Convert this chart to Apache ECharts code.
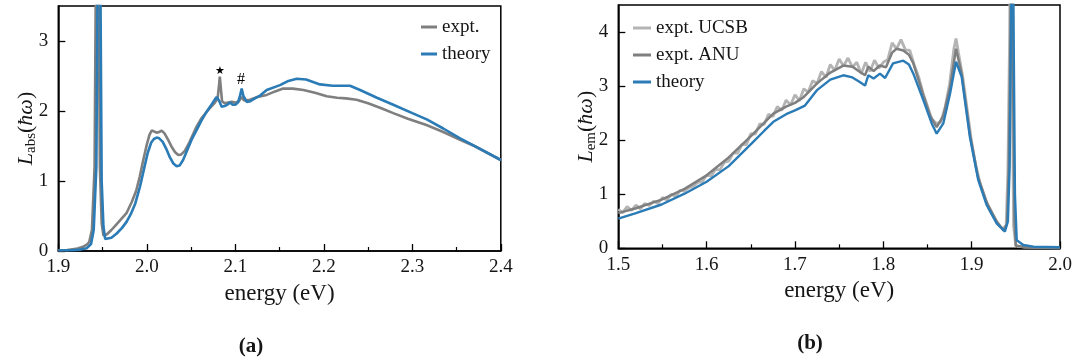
<!DOCTYPE html>
<html>
<head>
<meta charset="utf-8">
<script src="https://cdn.jsdelivr.net/npm/echarts@6/dist/echarts.min.js"></script>
<style>
  html, body { margin: 0; padding: 0; background: #fff; }
  #chart { width: 1080px; height: 362px; }
</style>
</head>
<body>
<div id="chart"></div>
<script>
// ---- (a) absorption line shape: [energy eV, L_abs] ----
const absExpt = [
  [1.900, 0.01], [1.910, 0.015], [1.920, 0.03], [1.928, 0.06], [1.933, 0.10], [1.935, 0.13],
  [1.938, 0.30], [1.941, 1.20], [1.9425, 4.0], [1.944, 8.0], [1.9455, 4.0], [1.947, 1.20],
  [1.949, 0.40], [1.951, 0.22], [1.955, 0.24], [1.960, 0.30], [1.965, 0.37], [1.970, 0.44],
  [1.977, 0.54], [1.983, 0.70], [1.988, 0.86], [1.992, 1.06], [1.996, 1.30], [2.000, 1.52],
  [2.003, 1.66], [2.0055, 1.72], [2.008, 1.71], [2.011, 1.69], [2.014, 1.70], [2.0168, 1.72],
  [2.020, 1.68], [2.024, 1.59], [2.028, 1.49], [2.032, 1.41], [2.0356, 1.37], [2.039, 1.38],
  [2.043, 1.43], [2.048, 1.55], [2.052, 1.66], [2.0564, 1.78], [2.062, 1.90], [2.0677, 1.99],
  [2.072, 2.05], [2.077, 2.12], [2.080, 2.18], [2.0815, 2.35], [2.0825, 2.49], [2.0835, 2.35],
  [2.085, 2.14], [2.088, 2.11], [2.092, 2.12], [2.096, 2.13], [2.100, 2.12], [2.104, 2.14],
  [2.107, 2.20], [2.110, 2.15], [2.1166, 2.16], [2.125, 2.20], [2.1355, 2.23], [2.145, 2.28],
  [2.154, 2.32], [2.165, 2.32], [2.177, 2.30], [2.190, 2.26], [2.2033, 2.21], [2.215, 2.19],
  [2.225, 2.18], [2.237, 2.16], [2.250, 2.11], [2.265, 2.04], [2.2785, 1.97], [2.295, 1.89],
  [2.316, 1.80], [2.335, 1.70], [2.354, 1.59], [2.370, 1.50], [2.385, 1.40], [2.400, 1.30]
];
const absTheory = [
  [1.900, 0.01], [1.915, 0.01], [1.925, 0.02], [1.932, 0.04], [1.937, 0.10], [1.940, 0.30],
  [1.943, 1.20], [1.9445, 4.0], [1.946, 8.0], [1.9475, 4.0], [1.949, 1.00], [1.951, 0.35],
  [1.953, 0.17], [1.955, 0.16], [1.960, 0.19], [1.966, 0.25], [1.972, 0.33], [1.9773, 0.42],
  [1.982, 0.53], [1.987, 0.68], [1.9923, 0.92], [1.997, 1.18], [2.001, 1.40], [2.005, 1.55],
  [2.008, 1.60], [2.0111, 1.62], [2.014, 1.61], [2.018, 1.56], [2.022, 1.46], [2.026, 1.34],
  [2.030, 1.25], [2.0338, 1.21], [2.037, 1.22], [2.041, 1.30], [2.046, 1.45], [2.051, 1.60],
  [2.0564, 1.73], [2.062, 1.87], [2.0677, 1.99], [2.072, 2.07], [2.0771, 2.17], [2.079, 2.20],
  [2.082, 2.14], [2.0846, 2.06], [2.088, 2.07], [2.091, 2.09], [2.094, 2.12], [2.097, 2.09],
  [2.100, 2.09], [2.103, 2.12], [2.105, 2.20], [2.1072, 2.32], [2.109, 2.22], [2.1129, 2.13],
  [2.117, 2.14], [2.122, 2.18], [2.128, 2.22], [2.1355, 2.30], [2.1505, 2.37], [2.160, 2.43],
  [2.1694, 2.46], [2.180, 2.45], [2.1957, 2.38], [2.210, 2.36], [2.2296, 2.36], [2.241, 2.30],
  [2.260, 2.19], [2.2785, 2.09], [2.300, 1.97], [2.3163, 1.88], [2.335, 1.75], [2.354, 1.61],
  [2.375, 1.47], [2.400, 1.30]
];
// feature markers on the absorption curve
const absMarks = [
  { name: '\u2605', coord: [2.0827, 2.57], size: 11, font: 'DejaVu Sans' },
  { name: '#', coord: [2.1065, 2.44], size: 16, font: 'Liberation Serif' }
];

// ---- (b) emission line shape: [energy eV, L_em] ----
const emUCSB = [
  [1.500, 0.72], [1.505, 0.66], [1.510, 0.77], [1.515, 0.70], [1.520, 0.80], [1.525, 0.73],
  [1.530, 0.83], [1.535, 0.79], [1.540, 0.87], [1.545, 0.83], [1.550, 0.94], [1.555, 0.89],
  [1.560, 1.00], [1.565, 0.96], [1.570, 1.07], [1.575, 1.06], [1.580, 1.12], [1.585, 1.15],
  [1.590, 1.22], [1.595, 1.23], [1.600, 1.35], [1.605, 1.34], [1.610, 1.46], [1.615, 1.45],
  [1.620, 1.59], [1.625, 1.61], [1.630, 1.76], [1.635, 1.76], [1.640, 1.92], [1.645, 1.92],
  [1.650, 2.12], [1.655, 2.11], [1.660, 2.30], [1.665, 2.29], [1.670, 2.48], [1.675, 2.44],
  [1.680, 2.62], [1.685, 2.55], [1.690, 2.74], [1.695, 2.65], [1.700, 2.84], [1.705, 2.73],
  [1.710, 2.95], [1.715, 2.89], [1.720, 3.10], [1.725, 3.05], [1.730, 3.27], [1.735, 3.16],
  [1.740, 3.40], [1.745, 3.29], [1.750, 3.50], [1.755, 3.37], [1.760, 3.52], [1.765, 3.35],
  [1.770, 3.44], [1.775, 3.23], [1.780, 3.44], [1.785, 3.27], [1.790, 3.48], [1.795, 3.33],
  [1.800, 3.44], [1.805, 3.49], [1.810, 3.80], [1.815, 3.69], [1.820, 3.86], [1.825, 3.67],
  [1.830, 3.66], [1.835, 3.39], [1.840, 3.17], [1.845, 2.87], [1.850, 2.63], [1.855, 2.39],
  [1.860, 2.31], [1.865, 2.33], [1.870, 2.61], [1.875, 3.04], [1.880, 3.70], [1.8823, 3.88],
  [1.885, 3.62], [1.890, 3.16], [1.895, 2.56], [1.900, 1.96], [1.905, 1.50], [1.910, 1.18],
  [1.915, 0.94], [1.920, 0.72], [1.925, 0.58], [1.930, 0.44], [1.935, 0.36], [1.939, 0.42],
  [1.941, 1.40], [1.943, 4.0], [1.9445, 8.0], [1.946, 3.0], [1.9475, 0.40], [1.950, 0.04],
  [1.960, 0.02], [2.000, 0.01]
];
const emANU = [
  [1.500, 0.65], [1.520, 0.74], [1.549, 0.90], [1.575, 1.10], [1.600, 1.35], [1.625, 1.68],
  [1.651, 2.09], [1.665, 2.32], [1.6755, 2.49], [1.690, 2.62], [1.700, 2.69], [1.710, 2.80],
  [1.725, 3.05], [1.740, 3.25], [1.7547, 3.38], [1.765, 3.36], [1.772, 3.28], [1.7793, 3.20],
  [1.783, 3.36], [1.789, 3.28], [1.796, 3.38], [1.803, 3.35], [1.810, 3.62], [1.815, 3.69],
  [1.8226, 3.66], [1.829, 3.58], [1.834, 3.42], [1.8453, 2.83], [1.853, 2.45], [1.8604, 2.24],
  [1.8679, 2.45], [1.8755, 2.98], [1.8823, 3.69], [1.8887, 3.23], [1.8981, 2.10], [1.9075, 1.30],
  [1.917, 0.85], [1.9283, 0.50], [1.936, 0.33], [1.940, 0.45], [1.942, 1.50], [1.944, 4.0],
  [1.9455, 8.0], [1.947, 3.0], [1.9485, 0.50], [1.950, 0.05], [1.960, 0.02], [2.000, 0.01]
];
const emTheory = [
  [1.500, 0.55], [1.520, 0.65], [1.549, 0.81], [1.575, 1.01], [1.600, 1.23], [1.625, 1.52],
  [1.651, 1.94], [1.665, 2.17], [1.6755, 2.34], [1.690, 2.48], [1.700, 2.55], [1.7113, 2.64],
  [1.7246, 2.92], [1.740, 3.12], [1.7547, 3.20], [1.765, 3.16], [1.772, 3.09], [1.7793, 3.01],
  [1.783, 3.20], [1.789, 3.14], [1.7962, 3.23], [1.802, 3.15], [1.811, 3.42], [1.8226, 3.47],
  [1.829, 3.40], [1.834, 3.23], [1.8453, 2.74], [1.8548, 2.31], [1.8604, 2.12], [1.8679, 2.31],
  [1.8755, 2.86], [1.8823, 3.45], [1.8887, 3.17], [1.8981, 2.05], [1.9075, 1.26], [1.917, 0.80],
  [1.9283, 0.46], [1.9377, 0.31], [1.941, 0.50], [1.943, 1.50], [1.9445, 4.0], [1.946, 8.0],
  [1.9475, 4.0], [1.949, 1.00], [1.951, 0.15], [1.9585, 0.06], [1.970, 0.03], [2.000, 0.02]
];

// axis ticks
const absXTicks = [1.9, 2.0, 2.1, 2.2, 2.3, 2.4];
const absYTicks = [0, 1, 2, 3];
const emXTicks = [1.5, 1.6, 1.7, 1.8, 1.9, 2.0];
const emYTicks = [0, 1, 2, 3, 4];

const BLUE = '#2a7bb6';
const GRAY = '#7f7f7f';
const LIGHT = '#b4b4b4';
const SERIF = 'Liberation Serif';
const INK = '#151515';

const chart = echarts.init(document.getElementById('chart'), null, { renderer: 'canvas' });

function xAxisFor(gridIndex, min, max, ticks) {
  return {
    gridIndex, type: 'value', min, max, interval: 0.1,
    name: 'energy (eV)', nameLocation: 'middle', nameGap: 31,
    nameTextStyle: { fontFamily: SERIF, fontSize: 23, color: INK },
    axisLine: { show: true, onZero: false, lineStyle: { color: '#000', width: 1.5 } },
    axisTick: { inside: true, length: 7, lineStyle: { color: '#000', width: 1.3 }, customValues: ticks },
    minorTick: { show: true, splitNumber: 2, length: 4, lineStyle: { color: '#000', width: 1.2 } },
    axisLabel: { customValues: ticks, margin: 7, fontFamily: SERIF, fontSize: 19, color: INK,
      formatter: v => v.toFixed(1) },
    splitLine: { show: false }
  };
}
function richName(sub) {
  return '{i|L}{s|' + sub + '}{n|(}{i|\u0127\u03c9}{n|)}';
}
function yAxisFor(gridIndex, max, ticks, sub) {
  return {
    gridIndex, type: 'value', min: 0, max,
    name: richName(sub), nameLocation: 'middle', nameGap: 20, nameRotate: 90,
    nameMoveOverlap: false,
    nameTextStyle: {
      rich: {
        i: { fontFamily: SERIF, fontStyle: 'italic', fontSize: 22, lineHeight: 24, color: INK },
        n: { fontFamily: SERIF, fontSize: 22, lineHeight: 24, color: INK },
        s: { fontFamily: SERIF, fontSize: 15, lineHeight: 13, verticalAlign: 'bottom', color: INK }
      }
    },
    axisLine: { show: true, lineStyle: { color: '#000', width: 1.5 } },
    axisTick: { show: true, inside: true, length: 7, lineStyle: { color: '#000', width: 1.3 }, customValues: ticks },
    axisLabel: { customValues: ticks, margin: 10, fontFamily: SERIF, fontSize: 19, color: INK },
    splitLine: { show: false }
  };
}
function lineSeries(name, data, color, width, xi, z) {
  return {
    name, type: 'line', data, xAxisIndex: xi, yAxisIndex: xi, color,
    showSymbol: false, symbol: 'none', clip: true, z,
    lineStyle: { color, width }, emphasis: { disabled: true }, animation: false
  };
}

const exptAbs = lineSeries('expt.', absExpt, GRAY, 2.6, 0, 2);
exptAbs.markPoint = {
  symbol: 'circle', symbolSize: 1, itemStyle: { color: 'rgba(0,0,0,0)' }, animation: false,
  data: absMarks.map(m => ({
    name: m.name, coord: m.coord,
    label: { show: true, position: 'inside', formatter: m.name, color: '#000',
      fontFamily: m.font, fontSize: m.size }
  }))
};

chart.setOption({
  backgroundColor: '#fff',
  animation: false,
  grid: [
    { left: 58.3, right: 579.2, top: 6, bottom: 111, show: true, borderColor: '#000', borderWidth: 1.5 },
    { left: 618.3, right: 20, top: 5, bottom: 113.7, show: true, borderColor: '#000', borderWidth: 1.5 }
  ],
  xAxis: [xAxisFor(0, 1.9, 2.4, absXTicks), xAxisFor(1, 1.5, 2.0, emXTicks)],
  yAxis: [yAxisFor(0, 3.5, absYTicks, 'abs'), yAxisFor(1, 4.5, emYTicks, 'em')],
  legend: [
    { data: ['expt.', 'theory'], orient: 'vertical', left: 416, top: 12, icon: 'rect',
      itemWidth: 16, itemHeight: 3, itemGap: 7, selectedMode: false,
      textStyle: { fontFamily: SERIF, fontSize: 19, lineHeight: 20, color: INK } },
    { data: ['expt. UCSB', 'expt. ANU', 'theory'], orient: 'vertical', left: 628, top: 13, icon: 'rect',
      itemWidth: 18, itemHeight: 3, itemGap: 7, selectedMode: false,
      textStyle: { fontFamily: SERIF, fontSize: 19, lineHeight: 20, color: INK } }
  ],
  series: [
    exptAbs,
    lineSeries('theory', absTheory, BLUE, 2.6, 0, 3),
    lineSeries('expt. UCSB', emUCSB, LIGHT, 2.8, 1, 1),
    lineSeries('expt. ANU', emANU, GRAY, 2.5, 1, 2),
    lineSeries('theory', emTheory, BLUE, 2.4, 1, 3)
  ],
  graphic: [
    { type: 'text', x: 251, y: 347, style: { text: '(a)', fontFamily: SERIF, fontWeight: 'bold',
      fontSize: 21, fill: INK, align: 'center', verticalAlign: 'middle' } },
    { type: 'text', x: 810, y: 344, style: { text: '(b)', fontFamily: SERIF, fontWeight: 'bold',
      fontSize: 21, fill: INK, align: 'center', verticalAlign: 'middle' } }
  ]
});
</script>
</body>
</html>
